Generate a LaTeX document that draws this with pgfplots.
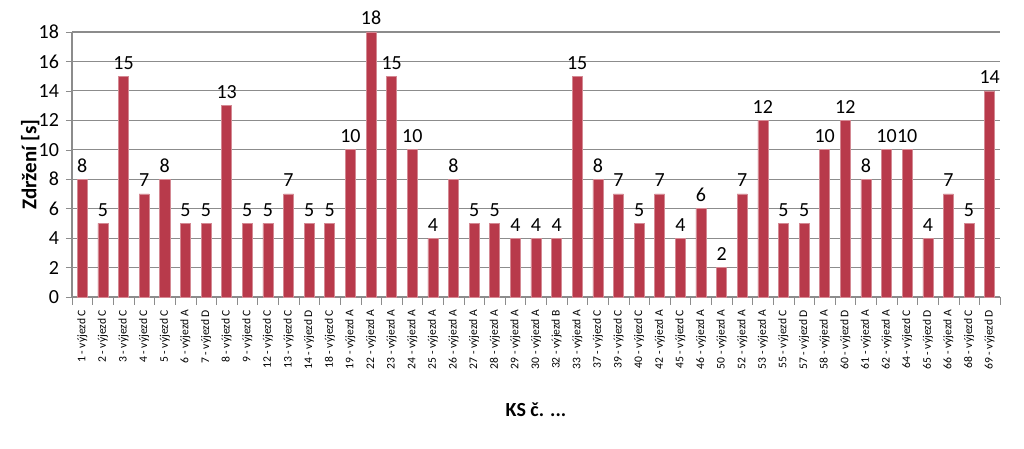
\documentclass[border=0pt]{standalone}
\usepackage{pgfplots}
\pgfplotsset{compat=1.18}
\usepackage{fontspec}
\setmainfont{Carlito}
\definecolor{barred}{HTML}{B83A4B}
\definecolor{gridgray}{HTML}{8C8C8C}

\begin{document}
\begin{tikzpicture}
\begin{axis}[
    at={(36pt,76pt)}, anchor=south west,
    scale only axis,
    width=464pt, height=132.5pt,
    xmin=-0.5, xmax=44.5,
    ymin=0, ymax=18,
    ytick={0,2,...,18},
    xtick={0,...,44},
    xticklabels={1 - výjezd C,2 - výjezd C,3 - výjezd C,4 - výjezd C,5 - výjezd C,6 - výjezd A,7 - výjezd D,8 - výjezd C,9 - výjezd C,12 - výjezd C,13 - výjezd C,14 - výjezd D,18 - výjezd C,19 - výjezd A,22 - výjezd A,23 - výjezd A,24 - výjezd A,25 - výjezd A,26 - výjezd A,27 - výjezd A,28 - výjezd A,29 - výjezd A,30 - výjezd A,32 - výjezd B,33 - výjezd A,37 - výjezd C,39 - výjezd C,40 - výjezd C,42 - výjezd A,45 - výjezd C,46 - výjezd A,50 - výjezd A,52 - výjezd A,53 - výjezd A,55 - výjezd C,57 - výjezd D,58 - výjezd A,60 - výjezd D,61 - výjezd A,62 - výjezd A,64 - výjezd C,65 - výjezd D,66 - výjezd A,68 - výjezd C,69 - výjezd D},
    x tick label style={rotate=90, anchor=east, font=\fontsize{5.8}{6}\selectfont},
    major x tick style={draw=none},
    minor xtick={-0.5,0.5,...,44.5},
    minor x tick style={draw=gridgray},
    minor tick length=4pt,
    tick align=outside,
    y tick label style={font=\fontsize{10}{12}\selectfont},
    /pgf/number format/assume math mode=true,
    ymajorgrids=true,
    grid style={draw=gridgray, line width=0.6pt},
    axis x line*=bottom,
    axis y line*=left,
    axis line style={draw=gridgray, line width=0.6pt},
    ytick style={draw=gridgray},
    major tick length=3pt,
    ylabel={\textbf{Zdržení [s]}},
    ylabel style={font=\fontsize{10.5}{12}\selectfont, at={(axis description cs:-0.045,0.5)}, anchor=center, rotate=0},
    xlabel={\textbf{KS č. ...}},
    xlabel style={font=\fontsize{10}{12}\selectfont, at={(axis description cs:0.5,-0.426)}, anchor=center},
    ybar, bar width=5pt,
    nodes near coords,
    nodes near coords style={font=\fontsize{10}{12}\selectfont, text=black},
    clip=false,
]
\addplot[fill=barred, draw=barred!60!white, line width=0.3pt] coordinates {
(0,8)(1,5)(2,15)(3,7)(4,8)(5,5)(6,5)(7,13)(8,5)(9,5)(10,7)(11,5)(12,5)(13,10)(14,18)
(15,15)(16,10)(17,4)(18,8)(19,5)(20,5)(21,4)(22,4)(23,4)(24,15)(25,8)(26,7)(27,5)(28,7)(29,4)
(30,6)(31,2)(32,7)(33,12)(34,5)(35,5)(36,10)(37,12)(38,8)(39,10)(40,10)(41,4)(42,7)(43,5)(44,14)
};
\end{axis}
\pgfresetboundingbox
\useasboundingbox (0,0) rectangle (512pt,224.5pt);
\end{tikzpicture}
\end{document}
